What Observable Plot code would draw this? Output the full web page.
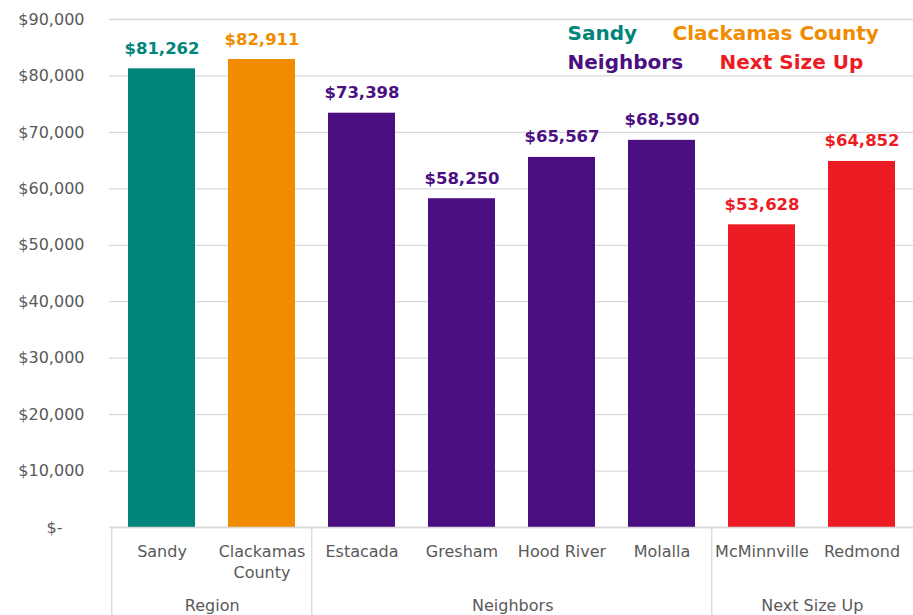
<!DOCTYPE html>
<html>
<head>
<meta charset="utf-8">
<script src="https://cdn.jsdelivr.net/npm/d3@7"></script>
<script src="https://cdn.jsdelivr.net/npm/@observablehq/plot@0.6"></script>
<style>
  html, body { margin: 0; padding: 0; background: #fff; }
  #chart { width: 913px; height: 615px; }
</style>
</head>
<body>
<div id="chart"></div>
<script>
// ---- data ----
const categories = ["Sandy", "Clackamas County", "Estacada", "Gresham", "Hood River", "Molalla", "McMinnville", "Redmond"];
const tickLabels = ["Sandy", "Clackamas\nCounty", "Estacada", "Gresham", "Hood River", "Molalla", "McMinnville", "Redmond"];
const values = [81262, 82911, 73398, 58250, 65567, 68590, 53628, 64852];
const seriesOf = ["Sandy", "Clackamas County", "Neighbors", "Neighbors", "Neighbors", "Neighbors", "Next Size Up", "Next Size Up"];
const groupNames = ["Region", "Neighbors", "Next Size Up"];
const groupMembers = [["Sandy", "Clackamas County"], ["Estacada", "Gresham", "Hood River", "Molalla"], ["McMinnville", "Redmond"]];
const legendLabels = ["Sandy", "Clackamas County", "Neighbors", "Next Size Up"];
const legendColors = ["#00857a", "#f18c00", "#4b0f82", "#ed1c24"];
const yTicks = [0, 10000, 20000, 30000, 40000, 50000, 60000, 70000, 80000, 90000];

// ---- layout ----
const W = 913, H = 615, ML = 109, MR = 0, MT = 19, MB = 88;
const plotH = H - MT - MB;
const step = (W - ML - MR) / categories.length;
const colorOf = s => legendColors[legendLabels.indexOf(s)];
const rows = categories.map((c, i) => ({cat: c, label: tickLabels[i], value: values[i], color: colorOf(seriesOf[i])}));
const money = d3.format(",");
const grid = "#d9d9d9";
const textGray = "#595959";

// legend placement (offsets from frame top-left)
const legendPos = [[458, 14], [563, 14], [458, 43], [610, 43]];

const groupMarks = groupNames.map((g, gi) =>
  Plot.text([g], {
    x: () => groupMembers[gi][0],
    text: d => d,
    frameAnchor: "bottom",
    dx: step * (groupMembers[gi].length - 1) / 2,
    dy: 83,
    fill: textGray,
    fontSize: 16
  })
);

const legendMarks = legendLabels.map((l, i) =>
  Plot.text([l], {
    text: d => d,
    frameAnchor: "top-left",
    textAnchor: "start",
    lineAnchor: "middle",
    dx: legendPos[i][0],
    dy: legendPos[i][1],
    fill: legendColors[i],
    fontWeight: "bold",
    fontSize: 20
  })
);

const chart = Plot.plot({
  width: W,
  height: H,
  marginLeft: ML,
  marginRight: MR,
  marginTop: MT,
  marginBottom: MB,
  style: {fontFamily: "DejaVu Sans", fontSize: "16px", color: textGray, background: "white"},
  x: {domain: categories, paddingInner: 0.33, paddingOuter: 0.165, axis: null},
  y: {domain: [0, 90000], axis: null},
  color: {type: "identity"},
  marks: [
    Plot.gridY(yTicks, {stroke: grid, strokeOpacity: 1, strokeWidth: 1.3}),
    Plot.axisY(yTicks.filter(d => d > 0), {tickSize: 0, tickPadding: 25, label: null, tickFormat: d => "$" + money(d), fill: textGray, fontSize: 16}),
    Plot.axisY([0], {tickSize: 0, tickPadding: 47, label: null, tickFormat: () => "$-", fill: textGray, fontSize: 16}),
    Plot.barY(rows, {x: "cat", y: "value", fill: "color"}),
    Plot.text(rows, {x: "cat", y: "value", text: d => "$" + money(d.value), fill: "color", fontWeight: "bold", fontSize: 16.5, lineAnchor: "bottom", dy: -15}),
    Plot.ruleY([0], {stroke: grid, strokeWidth: 1.3}),
    Plot.text(rows, {x: "cat", text: "label", frameAnchor: "bottom", lineAnchor: "top", dy: 14, lineHeight: 1.35, fill: textGray, fontSize: 16}),
    Plot.ruleX(groupMembers.map(m => m[0]), {x: d => d, dx: -step / 2, insetTop: plotH, insetBottom: -MB, stroke: grid, strokeWidth: 1.3}),
    ...groupMarks,
    ...legendMarks
  ]
});

document.getElementById("chart").append(chart);
</script>
</body>
</html>
